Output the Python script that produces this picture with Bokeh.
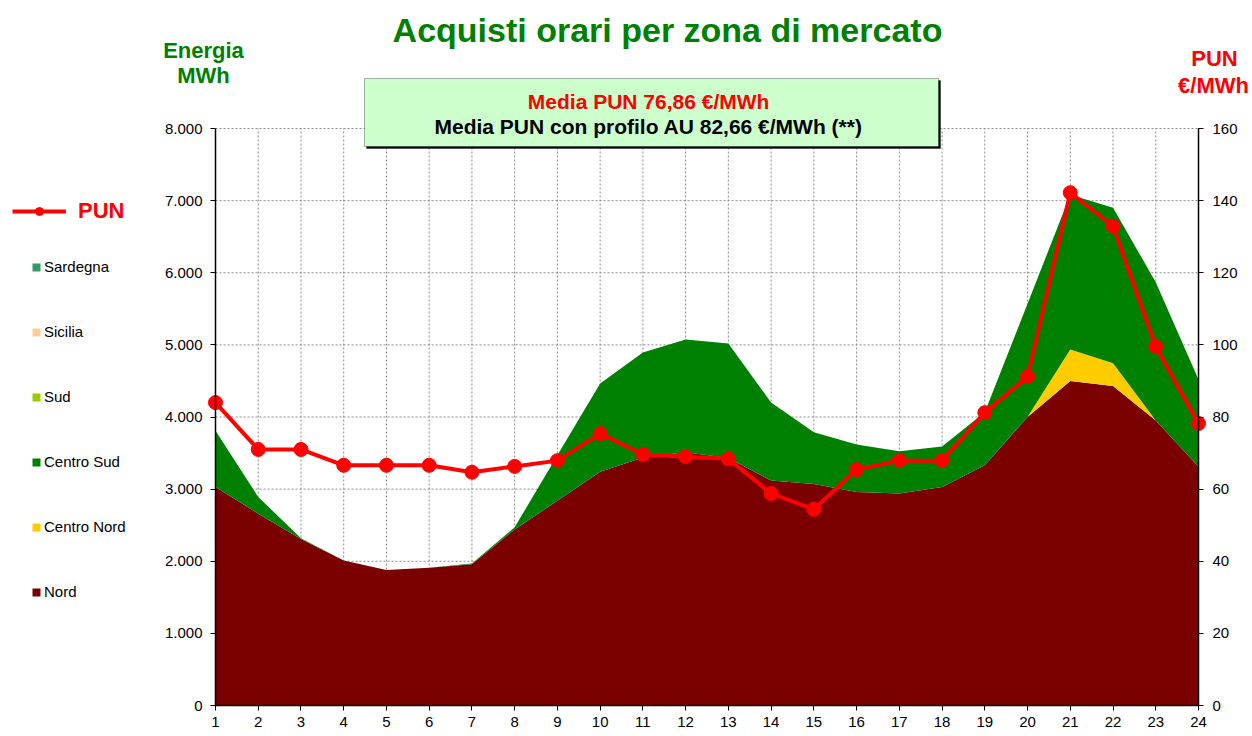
from bokeh.plotting import figure
from bokeh.models import (Range1d, LinearAxis, FixedTicker, ColumnDataSource,
                          Legend, LegendItem, Label, BoxAnnotation, CustomJSTickFormatter)
from bokeh.embed import file_html
from bokeh.resources import INLINE

# ---------------- data ----------------
hours = list(range(1, 25))
nord = [3030, 2660, 2310, 2010, 1880, 1910, 1960, 2440, 2840, 3240, 3440, 3510,
        3430, 3120, 3070, 2960, 2940, 3030, 3330, 4000, 4500, 4430, 3950, 3310]
centro_nord = [0, 0, 0, 0, 0, 0, 0, 0, 0, 0, 0, 0,
               0, 0, 0, 0, 0, 0, 0, 0, 435, 315, 0, 0]
centro_sud = [780, 230, 10, 0, 0, 0, 10, 30, 630, 1225, 1455, 1565,
              1590, 1080, 720, 660, 585, 560, 735, 1570, 2145, 2155, 1920, 1210]
sud = [0, 0, 0, 0, 0, 0, 0, 0, 0, 0, 0, 0,
       0, 0, 0, 0, 0, 0, 0, 0, 0, 0, 0, 0]
sicilia = [0, 0, 0, 0, 0, 0, 0, 0, 0, 0, 0, 0,
           0, 0, 0, 0, 0, 0, 0, 0, 0, 0, 0, 0]
sardegna = [0, 0, 0, 0, 0, 0, 0, 0, 0, 0, 0, 0,
            0, 0, 0, 0, 0, 0, 0, 0, 0, 0, 0, 0]
pun = [84.0, 71.0, 71.0, 66.6, 66.6, 66.6, 64.7, 66.3, 67.9, 75.4, 69.6, 69.0,
       68.4, 58.8, 54.4, 65.4, 67.9, 67.9, 81.2, 91.2, 142.2, 132.9, 99.5, 78.2]

energy_ticks = [0, 1000, 2000, 3000, 4000, 5000, 6000, 7000, 8000]
pun_ticks = [0, 20, 40, 60, 80, 100, 120, 140, 160]

zone_names = ["Nord", "Centro Nord", "Centro Sud", "Sud", "Sicilia", "Sardegna"]
zone_keys = ["nord", "centro_nord", "centro_sud", "sud", "sicilia", "sardegna"]
zone_colors = ["#7B0000", "#FFCC00", "#008000", "#99CC00", "#FFCC99", "#339966"]

title_text = "Acquisti orari per zona di mercato"
media_pun = "Media PUN 76,86  €/MWh"
media_pun_au = "Media PUN con profilo AU 82,66  €/MWh (**)"

FONT = "Liberation Sans"

# ---------------- layout (pixels on the canvas) ----------------
W, H = 1252, 736
PL, PR, PT, PB = 215, 1198, 128, 705   # plot-area edges

def span(lo, hi, plo, phi, size):
    """range so that lo->plo px and hi->phi px on a canvas of given size (px from start)."""
    k = (hi - lo) / (phi - plo)
    return lo - plo * k, hi + (size - phi) * k

x0, x1 = span(hours[0], hours[-1], PL, PR, W)
# y measured from bottom
y0, y1 = span(energy_ticks[0], energy_ticks[-1], H - PB, H - PT, H)
q0, q1 = span(pun_ticks[0], pun_ticks[-1], H - PB, H - PT, H)

source = ColumnDataSource(dict(hour=hours, nord=nord, centro_nord=centro_nord, centro_sud=centro_sud,
                               sud=sud, sicilia=sicilia, sardegna=sardegna, pun=pun))

p = figure(width=W, height=H, output_backend="svg", toolbar_location=None,
           x_range=Range1d(x0, x1), y_range=Range1d(y0, y1),
           x_axis_location=None, y_axis_location=None,
           min_border=0)
p.outline_line_color = None
p.background_fill_color = "white"
p.border_fill_color = "white"
for g in p.grid:
    g.visible = False

p.extra_y_ranges = {"pun": Range1d(q0, q1)}

# grid lines (dotted), under the areas
gx = [[h, h] for h in hours[1:]]
gy = [[energy_ticks[0], energy_ticks[-1]] for h in hours[1:]]
hx = [[hours[0], hours[-1]] for t in energy_ticks[1:]]
hy = [[t, t] for t in energy_ticks[1:]]
p.multi_line(gx + hx, gy + hy, line_color="#8c8c8c", line_dash="2 2", line_width=1, level="underlay")

areas = p.varea_stack(stackers=zone_keys, x="hour", color=zone_colors, source=source)

line_r = p.line("hour", "pun", source=source, color="#FF0000", line_width=4, y_range_name="pun")
dots_r = p.scatter("hour", "pun", source=source, color="#FF0000", size=14, y_range_name="pun")

# axes
left = LinearAxis(fixed_location=hours[0], bounds=(energy_ticks[0], energy_ticks[-1]),
                  ticker=FixedTicker(ticks=energy_ticks),
                  formatter=CustomJSTickFormatter(code="return tick == 0 ? '0' : (tick/1000).toFixed(3);"))
right = LinearAxis(y_range_name="pun", fixed_location=hours[-1], bounds=(pun_ticks[0], pun_ticks[-1]),
                   ticker=FixedTicker(ticks=pun_ticks))
bottom = LinearAxis(fixed_location=energy_ticks[0], bounds=(hours[0], hours[-1]),
                    ticker=FixedTicker(ticks=hours))
p.add_layout(left, "left")
p.add_layout(right, "right")
p.add_layout(bottom, "below")

for ax in [left, right, bottom]:
    ax.axis_line_color = "black"
    ax.axis_line_width = 1.5
    ax.major_tick_line_color = "black"
    ax.major_tick_out = 5
    ax.major_tick_in = 0
    ax.minor_tick_line_color = None
    ax.major_label_text_font = FONT
    ax.major_label_text_font_size = "15px"
    ax.major_label_text_color = "black"
bottom.major_label_standoff = 6
left.major_label_standoff = 8
right.major_label_standoff = 9

# legends (location = bottom-left corner, px from canvas bottom-left)
zone_items = [LegendItem(label=zone_names[i], renderers=[areas[i]]) for i in reversed(range(6))]
zleg = Legend(items=zone_items, location=(31, 136), orientation="vertical",
              glyph_width=10, glyph_height=10, label_height=16, spacing=48,
              label_standoff=3, padding=0, margin=0,
              label_text_font=FONT, label_text_font_size="15px", label_text_color="black",
              background_fill_alpha=0, border_line_alpha=0)
p.add_layout(zleg)

pleg = Legend(items=[LegendItem(label="PUN", renderers=[line_r, dots_r])], location=(12, 512),
              glyph_width=54, glyph_height=20, label_height=24, label_standoff=12,
              padding=0, margin=0,
              label_text_font=FONT, label_text_font_size="22px", label_text_font_style="bold",
              label_text_color="#FF0000", background_fill_alpha=0, border_line_alpha=0)
p.add_layout(pleg)

# title and axis titles (canvas px, y from top)
def lab(text, x, y, size, color, style="bold"):
    return Label(x=x, y=y, x_units="canvas", y_units="canvas", text=text,
                 text_font=FONT, text_font_size=size, text_font_style=style,
                 text_color=color, text_align="center", text_baseline="middle")

p.add_layout(lab(title_text, 667, 29, "34px", "#008000"))
p.add_layout(lab("Energia", 203, 50, "22px", "#008000"))
p.add_layout(lab("MWh", 203, 75, "22px", "#008000"))
p.add_layout(lab("PUN", 1214, 58, "22px", "#FF0000"))
p.add_layout(lab("€/MWh", 1213, 85, "22px", "#FF0000"))

# info box
p.add_layout(BoxAnnotation(left=366, right=940, top=80, bottom=148,
                           left_units="canvas", right_units="canvas", top_units="canvas", bottom_units="canvas",
                           fill_color="black", fill_alpha=1, line_color="black"))
p.add_layout(BoxAnnotation(left=364, right=938, top=78, bottom=146,
                           left_units="canvas", right_units="canvas", top_units="canvas", bottom_units="canvas",
                           fill_color="#CCFFCC", fill_alpha=1, line_color="black", line_width=1))
p.add_layout(lab(media_pun, 651, 101, "21px", "#FF0000"))
p.add_layout(lab(media_pun_au, 651, 126, "21px", "black"))

open("out.html", "w").write(file_html(p, INLINE))
